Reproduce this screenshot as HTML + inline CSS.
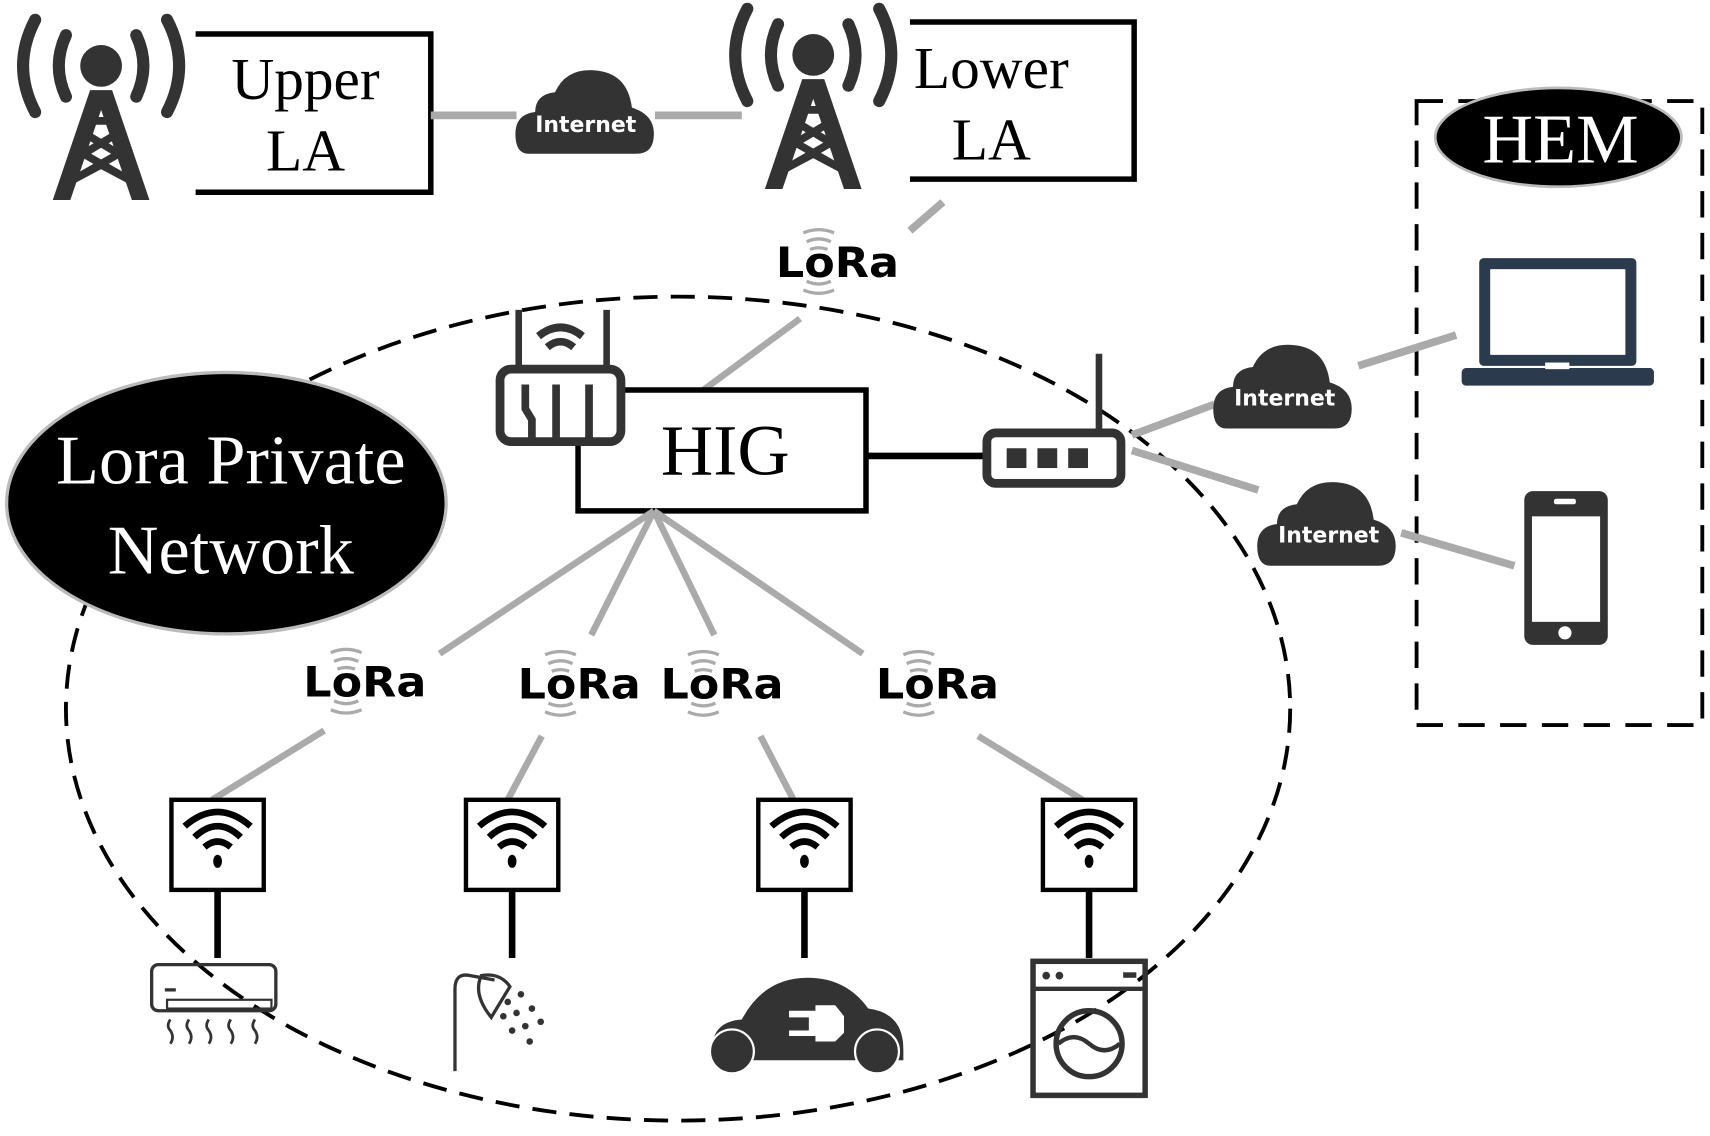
<!DOCTYPE html>
<html><head><meta charset="utf-8"><style>html,body{margin:0;padding:0;background:#fff}svg{display:block}</style></head>
<body>
<svg width="1710" height="1136" viewBox="0 0 1556 1034" preserveAspectRatio="none" xmlns="http://www.w3.org/2000/svg">
<defs>
<g id="tower">
 <circle cx="0" cy="0" r="19" fill="#333"/>
 <path d="M-32,-28 Q-45,0 -32,28 M32,-28 Q45,0 32,28" stroke="#333" stroke-width="11" fill="none" stroke-linecap="round"/>
 <path d="M-60,-42 Q-82,0 -60,42 M60,-42 Q82,0 60,42" stroke="#333" stroke-width="11" fill="none" stroke-linecap="round"/>
 <path d="M-10,22 L10,22 L44,122 L28,122 L0,40 L-28,122 L-44,122 Z" fill="#333"/>
 <path d="M-8,50 L8,50 M-14,62 L16,80 L-26,104 M14,62 L-16,80 L26,104 M-30,106 L0,90 L30,106" stroke="#333" stroke-width="7" fill="none"/>
</g>
<g id="cloud">
 <path d="M-52,28 Q-64,28 -64,10 Q-64,-8 -46,-10 Q-46,-26 -28,-28 Q-18,-50 8,-48 Q38,-46 42,-14 Q62,-8 62,10 Q62,28 46,28 Z" fill="#333"/>
</g>
<g id="arcs">
 <path d="M-14,-26 Q0,-32 14,-26 M-11,-18 Q0,-23 11,-18 M-8,-11 Q0,-14 8,-11" stroke="#aaa" stroke-width="3" fill="none"/>
 <path d="M-14,26 Q0,32 14,26 M-11,18 Q0,23 11,18 M-8,11 Q0,14 8,11" stroke="#aaa" stroke-width="3" fill="none"/>
</g>
<g id="wifi">
 <path d="M-30,-8 Q0,-34 30,-8" stroke="#000" stroke-width="6" fill="none"/>
 <path d="M-21,2 Q0,-18 21,2" stroke="#000" stroke-width="6" fill="none"/>
 <path d="M-12,11 Q0,1 12,11" stroke="#000" stroke-width="6" fill="none"/>
 <ellipse cx="0" cy="24" rx="4" ry="6" fill="#000"/>
</g>
<g id="node">
 <rect x="-42" y="0" width="84" height="82" fill="#fff" stroke="#000" stroke-width="4"/>
 <use href="#wifi" x="0" y="32"/>
 <line x1="0" y1="82" x2="0" y2="144" stroke="#000" stroke-width="6"/>
</g>
</defs>

<!-- dashed network ellipse -->
<ellipse cx="617" cy="645" rx="557" ry="375" fill="none" stroke="#000" stroke-width="3.5" stroke-dasharray="22,12"/>

<!-- top -->
<use href="#tower" x="92" y="60"/>
<polyline points="178,31 392,31 392,175 178,175" fill="none" stroke="#000" stroke-width="5"/>
<text x="278" y="90" font-family="Liberation Serif,serif" font-size="54" text-anchor="middle">Upper</text>
<text x="278" y="155" font-family="Liberation Serif,serif" font-size="54" text-anchor="middle">LA</text>
<line x1="392" y1="105" x2="470" y2="105" stroke="#aaa" stroke-width="7"/>
<line x1="596" y1="105" x2="675" y2="105" stroke="#aaa" stroke-width="7"/>
<use href="#cloud" x="533" y="112"/>
<text x="533" y="120" font-family="DejaVu Sans,sans-serif" font-weight="bold" font-size="20" fill="#fff" text-anchor="middle">Internet</text>

<use href="#tower" x="740" y="50"/>
<polyline points="828,20 1032,20 1032,163 828,163" fill="none" stroke="#000" stroke-width="5"/>
<text x="902" y="80" font-family="Liberation Serif,serif" font-size="54" text-anchor="middle">Lower</text>
<text x="902" y="145" font-family="Liberation Serif,serif" font-size="54" text-anchor="middle">LA</text>
<line x1="858" y1="184" x2="828" y2="210" stroke="#aaa" stroke-width="7"/>
<line x1="728" y1="290" x2="640" y2="355" stroke="#aaa" stroke-width="6"/>

<!-- LoRa labels -->
<g font-family="DejaVu Sans,sans-serif" font-weight="bold" font-size="38">
 <use href="#arcs" x="745" y="238"/><text x="706" y="252" textLength="112" lengthAdjust="spacingAndGlyphs">LoRa</text>
 <use href="#arcs" x="315" y="620"/><text x="276" y="634" textLength="112" lengthAdjust="spacingAndGlyphs">LoRa</text>
 <use href="#arcs" x="510" y="622"/><text x="471" y="636" textLength="112" lengthAdjust="spacingAndGlyphs">LoRa</text>
 <use href="#arcs" x="640" y="622"/><text x="601" y="636" textLength="112" lengthAdjust="spacingAndGlyphs">LoRa</text>
 <use href="#arcs" x="836" y="622"/><text x="797" y="636" textLength="112" lengthAdjust="spacingAndGlyphs">LoRa</text>
</g>

<!-- Lora private network -->
<ellipse cx="206" cy="458" rx="200" ry="119" fill="#000" stroke="#bbb" stroke-width="3"/>
<text x="210" y="440" font-family="Liberation Serif,serif" font-size="64" fill="#fff" text-anchor="middle">Lora Private</text>
<text x="210" y="522" font-family="Liberation Serif,serif" font-size="64" fill="#fff" text-anchor="middle">Network</text>

<!-- HIG -->
<polyline points="568,355 788,355 788,465 526,465 526,405" fill="none" stroke="#000" stroke-width="5"/>
<text x="660" y="432" font-family="Liberation Serif,serif" font-size="66" text-anchor="middle">HIG</text>
<!-- router left -->
<g fill="none" stroke="#333">
 <rect x="455" y="336" width="110" height="66" rx="10" stroke-width="8"/>
 <line x1="512" y1="280" x2="512" y2="280"/>
 <line x1="472" y1="282" x2="472" y2="336" stroke-width="6"/>
 <line x1="552" y1="282" x2="552" y2="336" stroke-width="6"/>
 <path d="M490,306 Q510,290 530,306 M498,316 Q510,306 522,316" stroke-width="7"/>
 <path d="M478,350 L478,372 L484,382 L484,402 M506,350 L506,402 M536,350 L536,402" stroke-width="7"/>
</g>

<line x1="788" y1="415" x2="895" y2="415" stroke="#000" stroke-width="6"/>
<!-- router right -->
<rect x="898" y="394" width="122" height="46" rx="8" fill="none" stroke="#333" stroke-width="8"/>
<line x1="1000" y1="322" x2="1000" y2="394" stroke="#333" stroke-width="6"/>
<rect x="916" y="408" width="18" height="18" fill="#333"/><rect x="944" y="408" width="18" height="18" fill="#333"/><rect x="972" y="408" width="18" height="18" fill="#333"/>

<!-- HEM -->
<rect x="1289" y="92" width="260" height="568" fill="none" stroke="#000" stroke-width="3.5" stroke-dasharray="24,14"/>
<ellipse cx="1418" cy="125" rx="112" ry="45" fill="#000" stroke="#bbb" stroke-width="2.5"/>
<text x="1420" y="148" font-family="Liberation Serif,serif" font-size="64" fill="#fff" text-anchor="middle">HEM</text>

<line x1="1030" y1="396" x2="1105" y2="368" stroke="#aaa" stroke-width="7"/>
<use href="#cloud" x="1168" y="362"/>
<text x="1169" y="369" font-family="DejaVu Sans,sans-serif" font-weight="bold" font-size="20" fill="#fff" text-anchor="middle">Internet</text>
<line x1="1236" y1="333" x2="1325" y2="305" stroke="#aaa" stroke-width="7"/>
<rect x="1346" y="235" width="143" height="98" rx="4" fill="#2c3a4d"/>
<rect x="1356" y="245" width="123" height="78" fill="#fff"/>
<rect x="1330" y="335" width="175" height="16" rx="4" fill="#2c3a4d"/>
<rect x="1406" y="330" width="22" height="6" fill="#fff"/>

<line x1="1030" y1="410" x2="1145" y2="446" stroke="#aaa" stroke-width="7"/>
<use href="#cloud" x="1208" y="487"/>
<text x="1209" y="494" font-family="DejaVu Sans,sans-serif" font-weight="bold" font-size="20" fill="#fff" text-anchor="middle">Internet</text>
<line x1="1275" y1="485" x2="1378" y2="515" stroke="#aaa" stroke-width="7"/>
<rect x="1387" y="447" width="76" height="140" rx="8" fill="#333"/>
<rect x="1394" y="470" width="62" height="96" fill="#fff"/>
<rect x="1414" y="454" width="20" height="5" rx="2" fill="#fff"/>
<circle cx="1424" cy="576" r="6" fill="#fff"/>

<!-- fan lines -->
<g stroke="#aaa" stroke-width="6">
 <line x1="595" y1="465" x2="400" y2="595"/>
 <line x1="595" y1="465" x2="538" y2="578"/>
 <line x1="595" y1="465" x2="650" y2="578"/>
 <line x1="595" y1="465" x2="785" y2="595"/>
 <line x1="295" y1="665" x2="193" y2="728"/>
 <line x1="493" y1="670" x2="462" y2="728"/>
 <line x1="692" y1="670" x2="722" y2="728"/>
 <line x1="890" y1="670" x2="985" y2="728"/>
</g>

<use href="#node" x="198" y="728"/>
<use href="#node" x="466" y="728"/>
<use href="#node" x="732" y="728"/>
<use href="#node" x="991" y="728"/>

<!-- AC -->
<rect x="138" y="878" width="113" height="42" rx="6" fill="none" stroke="#333" stroke-width="3"/>
<line x1="150" y1="901" x2="160" y2="901" stroke="#333" stroke-width="3"/>
<rect x="152" y="910" width="95" height="8" fill="none" stroke="#333" stroke-width="2"/>
<path d="M155,928 q-4,6 0,10 q4,6 0,12 M172,928 q-4,6 0,10 q4,6 0,12 M190,928 q-4,6 0,10 q4,6 0,12 M210,928 q-4,6 0,10 q4,6 0,12 M232,928 q-4,6 0,10 q4,6 0,12" stroke="#333" stroke-width="2.5" fill="none"/>
<!-- shower -->
<path d="M414,975 L414,900 Q414,885 428,888 L450,892" stroke="#333" stroke-width="3" fill="none"/>
<path d="M438,888 Q430,905 447,926 L464,898 Q455,885 438,888 Z" fill="none" stroke="#333" stroke-width="3"/>
<g fill="#333"><circle cx="462" cy="912" r="3"/><circle cx="474" cy="905" r="3"/><circle cx="458" cy="925" r="3"/><circle cx="470" cy="922" r="3"/><circle cx="484" cy="918" r="3"/><circle cx="466" cy="938" r="3"/><circle cx="478" cy="934" r="3"/><circle cx="492" cy="930" r="3"/><circle cx="482" cy="948" r="3"/></g>
<!-- car -->
<path d="M648,962 Q645,930 675,928 Q695,890 735,890 Q770,890 790,918 Q822,922 822,955 L822,965 L648,965 Z" fill="#333"/>
<circle cx="666" cy="957" r="20" fill="#333" stroke="#fff" stroke-width="2"/>
<circle cx="798" cy="957" r="20" fill="#333" stroke="#fff" stroke-width="2"/>
<path d="M718,920 L742,920 L742,915 L760,915 L768,925 L768,940 L760,948 L742,948 L742,943 L718,943 L718,938 L736,938 L736,926 L718,926 Z" fill="#fff"/>
<!-- washer -->
<rect x="940" y="875" width="102" height="122" fill="none" stroke="#333" stroke-width="5"/>
<line x1="940" y1="900" x2="1042" y2="900" stroke="#333" stroke-width="4"/>
<circle cx="952" cy="888" r="3.5" fill="#333"/><circle cx="964" cy="888" r="3.5" fill="#333"/><rect x="1022" y="885" width="12" height="5" fill="#333"/>
<circle cx="991" cy="950" r="30" fill="none" stroke="#333" stroke-width="5"/>
<path d="M963,950 Q977,938 991,950 Q1005,962 1019,950" stroke="#333" stroke-width="4" fill="none"/>
</svg>
</body></html>
